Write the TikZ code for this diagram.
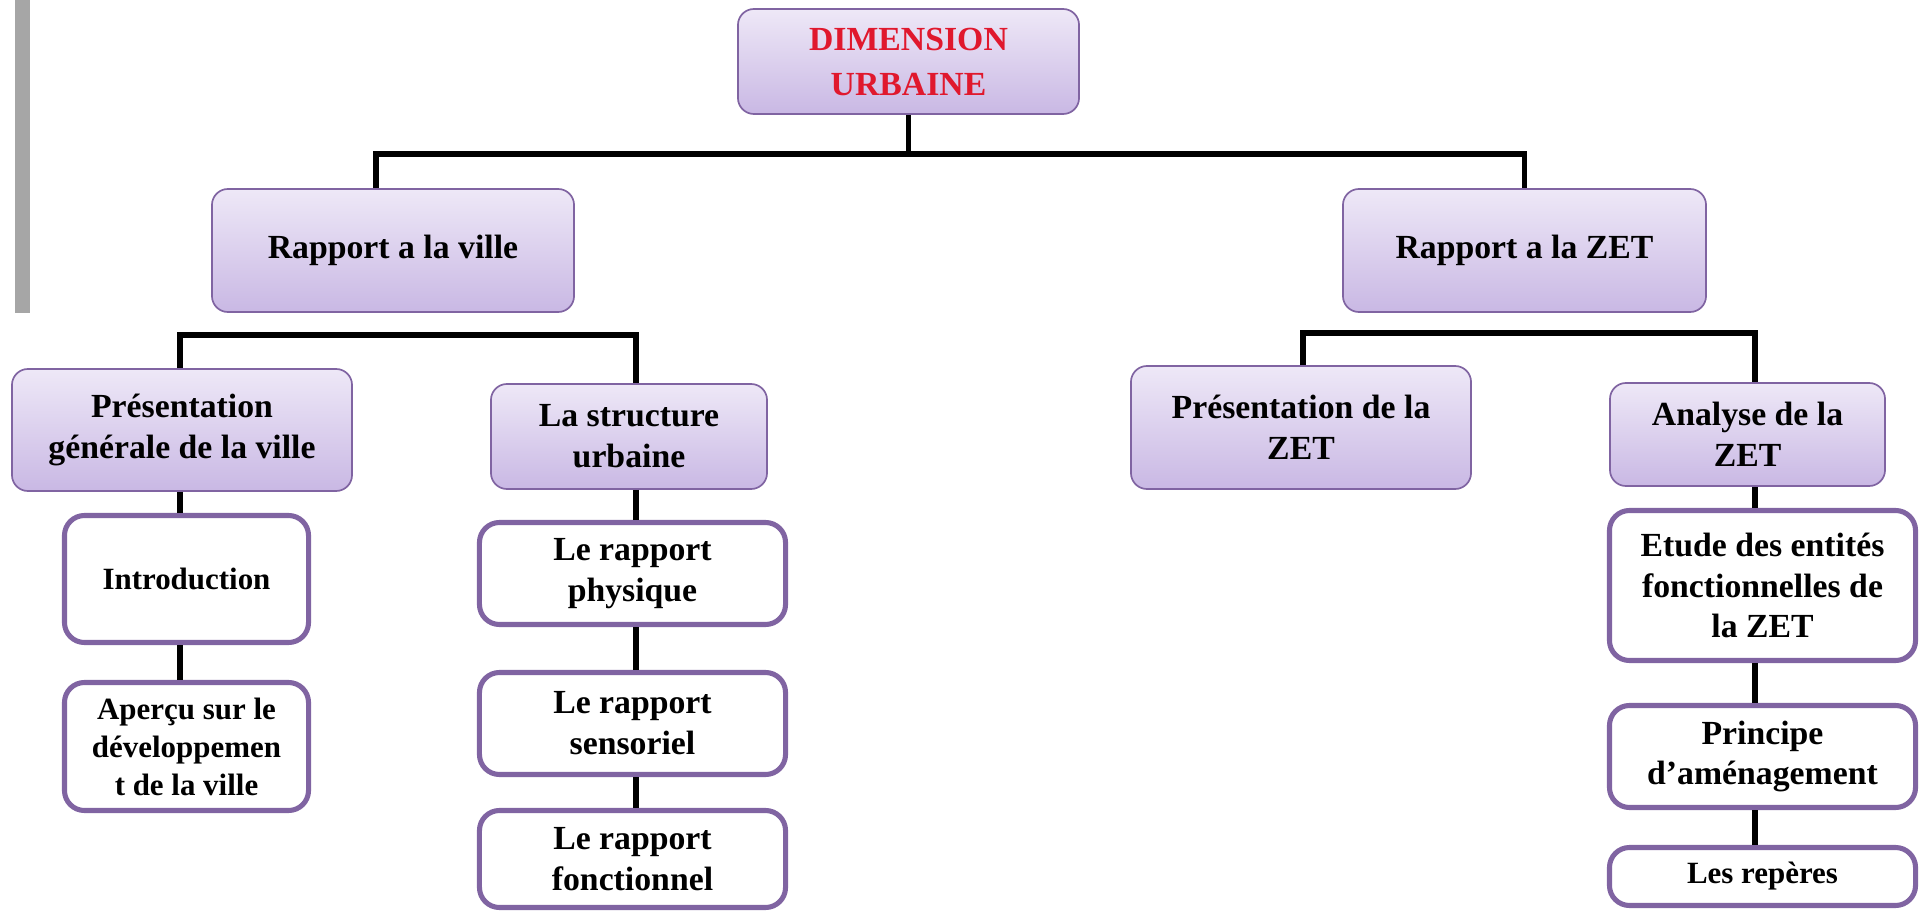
\documentclass[tikz,border=0pt]{standalone}
\usepackage{fontspec}
\setmainfont{Liberation Serif}
\definecolor{cadre}{HTML}{8064A2}
\definecolor{hautbox}{HTML}{EEE8F7}
\definecolor{basbox}{HTML}{C9B8E4}
\definecolor{rouge}{HTML}{E0182D}
\definecolor{barre}{HTML}{A6A6A6}

\begin{document}
\begin{tikzpicture}[x=0.025cm,y=-0.025cm,
    lien/.style={line width=3.6pt},
    titre/.style={rounded corners=0.4cm,draw=cadre,line width=1.2pt,top color=hautbox,bottom color=basbox,
        align=center,inner sep=0pt,font=\bfseries\fontsize{24}{29}\selectfont},
    sous/.style={rounded corners=0.5cm,draw=cadre,line width=3.6pt,fill=white,
        align=center,inner sep=0pt,font=\bfseries\fontsize{24}{29}\selectfont},
    petit/.style={font=\bfseries\fontsize{22}{27}\selectfont}]
    \useasboundingbox (0,0) rectangle (1921,912);
    \fill[barre] (15,0) rectangle (30,313);

    % niveau 0 et 1
    \node[titre,minimum width=8.525cm,minimum height=2.625cm,font=\bfseries\fontsize{24}{32}\selectfont,text=rouge] (dim) at (908.5,61.5) {DIMENSION\\URBAINE};
    \node[titre,minimum width=9.05cm,minimum height=3.075cm] (ville) at (393,250.5) {Rapport a la ville};
    \node[titre,minimum width=9.075cm,minimum height=3.075cm] (zet) at (1524.5,250.5) {Rapport a la ZET};

    % niveau 2
    \node[titre,minimum width=8.5cm,minimum height=3.05cm] (presville) at (182,430) {Présentation\\générale de la ville};
    \node[titre,minimum width=6.9cm,minimum height=2.625cm] (struct) at (629,436.5) {La structure\\urbaine};
    \node[titre,minimum width=8.5cm,minimum height=3.075cm] (preszet) at (1301,427.5) {Présentation de la\\ZET};
    \node[titre,minimum width=6.875cm,minimum height=2.575cm] (analyse) at (1747.5,434.5) {Analyse de la\\ZET};

    % niveau 3
    \node[sous,petit,minimum width=6.1cm,minimum height=3.175cm] (intro) at (186.5,579) {Introduction};
    \node[sous,petit,minimum width=6.1cm,minimum height=3.2cm] (apercu) at (186.5,746.5) {Aperçu sur le\\développemen\\t de la ville};
    \node[sous,minimum width=7.65cm,minimum height=2.55cm] (physique) at (632.5,573.5) {Le rapport\\physique};
    \node[sous,minimum width=7.65cm,minimum height=2.55cm] (sensoriel) at (632.5,723.5) {Le rapport\\sensoriel};
    \node[sous,minimum width=7.65cm,minimum height=2.425cm] (fonction) at (632.5,859) {Le rapport\\fonctionnel};
    \node[sous,minimum width=7.65cm,minimum height=3.75cm] (etude) at (1762.5,585.5) {Etude des entités\\fonctionnelles de\\la ZET};
    \node[sous,minimum width=7.65cm,minimum height=2.55cm] (principe) at (1762.5,756.5) {Principe\\d’aménagement};
    \node[sous,petit,minimum width=7.65cm,minimum height=1.45cm] (reperes) at (1762.5,876.5) {Les repères};

    % liens
    \coordinate (bus1) at (0,154);
    \coordinate (bus2) at (0,335);
    \coordinate (bus3) at (0,333);
    \coordinate (colV) at (376,0);
    \coordinate (colA) at (180,0);
    \coordinate (colB) at (636,0);
    \coordinate (colP) at (1303,0);
    \coordinate (colQ) at (1755,0);

    \draw[lien] (dim.south) -- (dim.south |- bus1);
    \draw[lien] (ville.north -| colV) |- (zet.north |- bus1) -- (zet.north);
    \draw[lien] (presville.north -| colA) |- (bus2 -| colB) -- (struct.north -| colB);
    \draw[lien] (preszet.north -| colP) |- (bus3 -| colQ) -- (analyse.north -| colQ);

    \draw[lien] (presville.south -| colA) -- (intro.north -| colA);
    \draw[lien] (intro.south -| colA) -- (apercu.north -| colA);
    \draw[lien] (struct.south -| colB) -- (physique.north -| colB);
    \draw[lien] (physique.south -| colB) -- (sensoriel.north -| colB);
    \draw[lien] (sensoriel.south -| colB) -- (fonction.north -| colB);
    \draw[lien] (analyse.south -| colQ) -- (etude.north -| colQ);
    \draw[lien] (etude.south -| colQ) -- (principe.north -| colQ);
    \draw[lien] (principe.south -| colQ) -- (reperes.north -| colQ);
\end{tikzpicture}
\end{document}
